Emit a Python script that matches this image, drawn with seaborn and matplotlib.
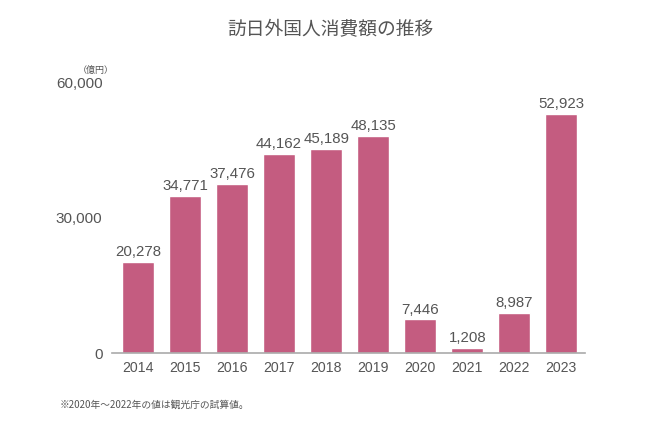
import matplotlib
matplotlib.use("Agg")
import matplotlib.pyplot as plt
import seaborn as sns
import pandas as pd

years = ["2014", "2015", "2016", "2017", "2018", "2019", "2020", "2021", "2022", "2023"]
values = [20278, 34771, 37476, 44162, 45189, 48135, 7446, 1208, 8987, 52923]
yticks = [0, 30000, 60000]
title = "訪日外国人消費額の推移"
unit = "（億円）"
note = "※2020年〜2022年の値は観光庁の試算値。"

sns.set_theme(style="white")
plt.rcParams["font.family"] = ["Noto Sans CJK JP", "DejaVu Sans"]
numfont = ["Liberation Sans", "DejaVu Sans"]

df = pd.DataFrame({"year": years, "value": values})
txt = "#555555"

fig = plt.figure(figsize=(6.6, 4.28), dpi=100)
ax = fig.add_axes([0.170, 0.175, 0.716, 0.633])
sns.barplot(data=df, x="year", y="value", color="#C45C80", saturation=1, width=0.68, ax=ax)

for i, v in enumerate(values):
    ax.text(i, v + 600, f"{v:,}", ha="center", va="bottom", fontsize=10.8,
            color=txt, family=numfont)

ax.set_xlim(-0.55, 9.5)
ax.set_ylim(0, 60000)
ax.set_yticks(yticks)
ax.set_yticklabels([f"{t:,}" for t in yticks])
ax.set_xlabel("")
ax.set_ylabel("")
ax.tick_params(axis="both", length=0, colors=txt)
ax.tick_params(axis="y", pad=7, labelsize=11)
ax.tick_params(axis="x", pad=6, labelsize=10.2)
for lab in ax.get_xticklabels() + ax.get_yticklabels():
    lab.set_family(numfont)
for s in ["top", "right", "left"]:
    ax.spines[s].set_visible(False)
ax.spines["bottom"].set_color("#aaaaaa")
ax.spines["bottom"].set_linewidth(1.2)

fig.text(0.5, 0.93, title, ha="center", va="center", fontsize=13.5, color=txt)
fig.text(0.145, 0.836, unit, ha="center", va="center", fontsize=6.5, color=txt)
fig.text(0.09, 0.055, note, ha="left", va="center", fontsize=7, color=txt)

fig.savefig("out.png", dpi=100)
